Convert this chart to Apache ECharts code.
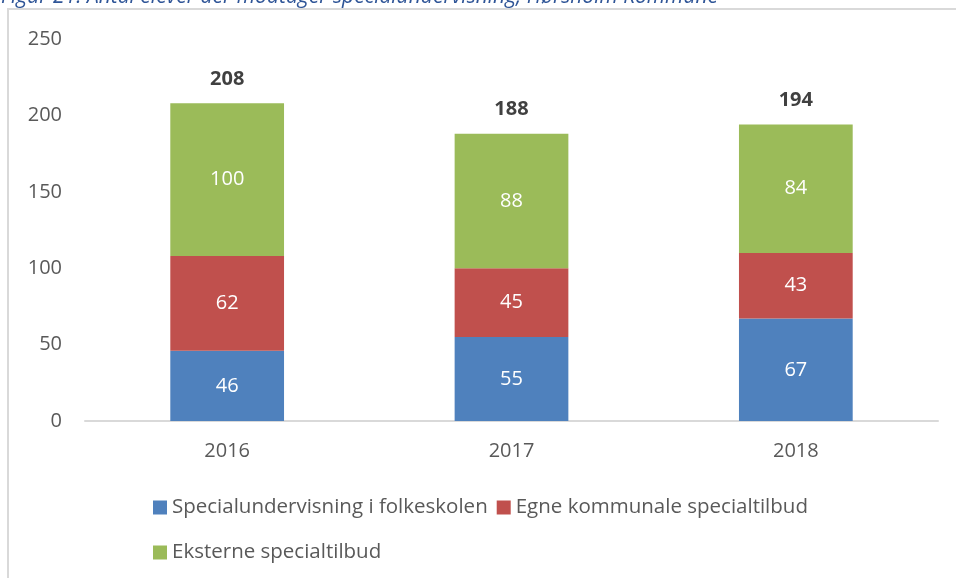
<!DOCTYPE html>
<html>
<head>
<meta charset="utf-8">
<script src="https://cdn.jsdelivr.net/npm/echarts@6/dist/echarts.min.js"></script>
<style>
  html, body { margin: 0; padding: 0; background: #ffffff; }
  #chart { width: 956px; height: 578px; }
</style>
</head>
<body>
<div id="chart"></div>
<script>
const years = ['2016', '2017', '2018']
const folkeskolen = [46, 55, 67]
const kommunale = [62, 45, 43]
const eksterne = [100, 88, 84]
const totals = [208, 188, 194]
const yTicks = [0, 50, 100, 150, 200, 250]

const font = 'Open Sans'
const chart = echarts.init(document.getElementById('chart'))

const inner = {
  show: true,
  position: 'inside',
  color: '#ffffff',
  fontFamily: font,
  fontSize: 20
}

const legendText = { color: '#595959', fontFamily: font, fontSize: 20.5 }

chart.setOption({
  animation: false,
  backgroundColor: '#ffffff',
  graphic: [
    {
      type: 'text',
      x: 1,
      y: -13,
      style: {
        text: 'Figur 21: Antal elever der modtager specialundervisning, Hørsholm Kommune',
        fill: '#2f5597',
        font: 'italic 21px "Open Sans"'
      },
      silent: true
    },
    {
      type: 'rect',
      shape: { x: 8, y: 9, width: 1000, height: 600 },
      style: { fill: '#ffffff', stroke: '#d9d9d9', lineWidth: 2 },
      z: -1,
      silent: true
    }
  ],
  grid: {
    left: 85,
    right: 18,
    top: 39,
    bottom: 157
  },
  legend: [
    {
      data: ['Specialundervisning i folkeskolen', 'Egne kommunale specialtilbud'],
      left: 153,
      top: 497,
      padding: 0,
      itemWidth: 14,
      itemHeight: 14,
      itemGap: 9,
      icon: 'rect',
      textStyle: legendText
    },
    {
      data: ['Eksterne specialtilbud'],
      left: 153,
      top: 542,
      padding: 0,
      itemWidth: 14,
      itemHeight: 14,
      icon: 'rect',
      textStyle: legendText
    }
  ],
  xAxis: {
    type: 'category',
    data: years,
    axisLine: { lineStyle: { color: '#d9d9d9', width: 2 } },
    axisTick: { show: false },
    axisLabel: { color: '#595959', fontFamily: font, fontSize: 20, margin: 20 }
  },
  yAxis: {
    type: 'value',
    min: yTicks[0],
    max: yTicks[yTicks.length - 1],
    interval: 50,
    axisLine: { show: false },
    axisTick: { show: false },
    splitLine: { show: false },
    axisLabel: { color: '#595959', fontFamily: font, fontSize: 20, margin: 23 }
  },
  series: [
    {
      name: 'Specialundervisning i folkeskolen',
      type: 'bar',
      stack: 'total',
      barWidth: '40%',
      itemStyle: { color: '#4f81bd' },
      label: inner,
      data: folkeskolen
    },
    {
      name: 'Egne kommunale specialtilbud',
      type: 'bar',
      stack: 'total',
      itemStyle: { color: '#c0504d' },
      label: inner,
      data: kommunale
    },
    {
      name: 'Eksterne specialtilbud',
      type: 'bar',
      stack: 'total',
      itemStyle: { color: '#9bbb59' },
      label: inner,
      data: eksterne
    },
    {
      name: 'Total',
      type: 'bar',
      barWidth: '40%',
      barGap: '-100%',
      z: 1,
      itemStyle: { color: 'rgba(0,0,0,0)' },
      label: {
        show: true,
        position: 'top',
        distance: 14,
        color: '#404040',
        fontFamily: font,
        fontWeight: 'bold',
        fontSize: 20
      },
      data: totals
    }
  ]
})
</script>
</body>
</html>
